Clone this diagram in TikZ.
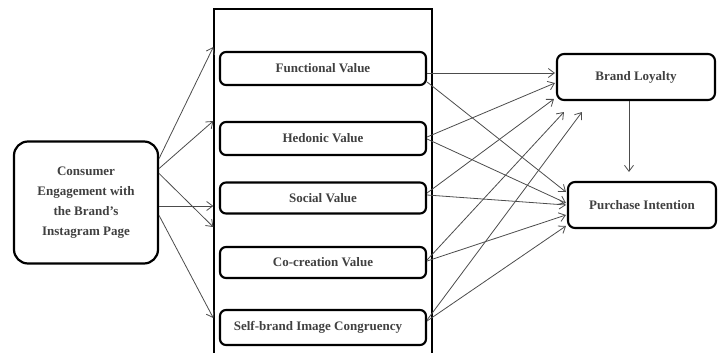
\documentclass[tikz,border=0pt]{standalone}
\usepackage{fontspec}
\setmainfont{Liberation Serif}
\usetikzlibrary{positioning,arrows.meta,calc}

\tikzset{
  lbl/.style={font=\bfseries\fontsize{13}{20}\selectfont, text=black!75, align=center, inner sep=0pt},
  valbox/.style={lbl, draw, line width=2.1pt, rounded corners=6pt, minimum width=206pt, minimum height=33pt},
  outbox/.style={lbl, draw, line width=2.1pt, rounded corners=7pt, minimum height=46pt},
  link/.style={-{Straight Barb[length=6pt,width=9pt]}, draw=black!70, line width=0.8pt},
}

\begin{document}
\begin{tikzpicture}[x=1pt,y=-1pt]
  \useasboundingbox (0,0) rectangle (718,353) ;
  \node[draw, line width=1.4pt, minimum width=218pt, minimum height=350pt] (frame) at (323,184) {} ;

  \node[lbl, draw, line width=2.2pt, rounded corners=14pt, minimum width=144pt, minimum height=122pt] (ce) at (86,202.5)
    {Consumer\\Engagement with\\the Brand’s\\Instagram Page} ;

  \node[valbox] (fv) at (323,68.5) {Functional Value} ;
  \node[valbox] (hv) at (323,138.5) {Hedonic Value} ;
  \node[valbox, minimum height=31pt] (sv) at (323,198) {Social Value} ;
  \node[valbox, minimum height=31pt] (cv) at (323,262.5) {Co-creation Value} ;
  \node[valbox, minimum height=35pt] (sb) at (323,327.5) {\hspace*{-10pt}Self-brand Image Congruency} ;

  \node[outbox, minimum width=158pt] (bl) at (636,77) {Brand Loyalty} ;
  \node[outbox, minimum width=148pt] (pi) at (642,205) {Purchase Intention} ;

  % entry points on the frame
  \coordinate (in1) at (frame.west |- 0,47) ;
  \coordinate (in2) at (frame.west |- 0,121) ;
  \coordinate (in3) at (frame.west |- 0,206) ;
  \coordinate (in4) at (frame.west |- 0,227) ;
  \coordinate (in5) at (frame.west |- 0,318) ;

  \draw[link] ($(ce.east)+(0,-44)$) -- (in1) ;
  \draw[link] ($(ce.east)+(0,-34)$) -- (in2) ;
  \draw[link] ($(ce.east)+(0,3.5)$) -- (in3) ;
  \draw[link] ($(ce.east)+(0,-29)$) -- (in4) ;
  \draw[link] ($(ce.east)+(0,13)$) -- (in5) ;

  % values to brand loyalty
  \draw[link] ($(fv.east)+(0,4.5)$) -- ($(bl.west)+(-1,-4)$) ;
  \draw[link] ($(hv.east)+(0,-1.5)$) -- ($(bl.west)+(-1,6)$) ;
  \draw[link] ($(sv.east)+(0,-5)$) -- ($(bl.west)+(-2,22)$) ;
  \draw[link] ($(cv.east)+(0,-2.5)$) -- ($(bl.south west)+(8,11)$) ;
  \draw[link] ($(sb.east)+(0,-7.5)$) -- ($(bl.south west)+(26,11)$) ;

  % values to purchase intention
  \draw[link] ($(fv.east)+(0,13.5)$) -- ($(pi.west)+(-1,-13)$) ;
  \draw[link] ($(hv.east)+(0,0.5)$) -- ($(pi.west)+(-1,-2)$) ;
  \draw[link] ($(sv.east)+(0,-3)$) -- ($(pi.west)+(-1,0)$) ;
  \draw[link] ($(cv.east)+(0,-1.5)$) -- ($(pi.west)+(-1,10)$) ;
  \draw[link] ($(sb.east)+(0,-6.5)$) -- ($(pi.west)+(-1,21)$) ;

  \draw[link, shorten >=9pt] ([xshift=-7pt]bl.south) -- ([xshift=-7pt]bl.south |- pi.north) ;
\end{tikzpicture}
\end{document}
